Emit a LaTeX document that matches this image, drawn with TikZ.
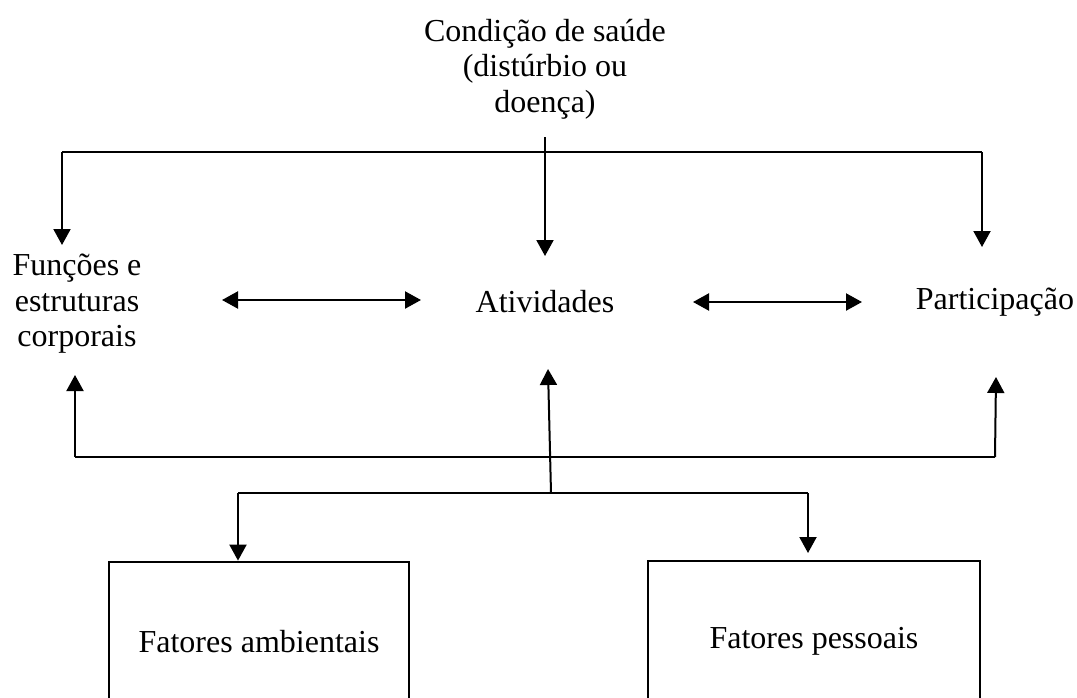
\documentclass[tikz,border=0pt]{standalone}
\usepackage{fontspec}
\setmainfont{Liberation Serif}
\usetikzlibrary{arrows.meta}
\begin{document}
\begin{tikzpicture}[x=1pt,y=-1pt,font=\fontsize{32}{35.5}\selectfont,
  seta/.style={line width=2pt,-{Triangle[length=16pt,width=17pt]}},
  dupla/.style={line width=2.2pt,{Triangle[length=16pt,width=17pt]}-{Triangle[length=16pt,width=17pt]}},
  linha/.style={line width=2.6pt},
  caixa/.style={draw,line width=2.8pt,inner sep=0pt,minimum height=160pt}]
\clip(0,0)rectangle(1077,697);
\fill[white](0,0)rectangle(1077,697);
\node[align=center,inner sep=0pt](cond)at(545,69){Condição de saúde\\(distúrbio ou\\doença)};
\node[align=center,inner sep=0pt](fun)at(77,304){Funções e\\estruturas\\corporais};
\node[inner sep=0pt](ativ)at(545,302){Atividades};
\node[inner sep=0pt](part)at(995,302){Participação};
\node[caixa,minimum width=300pt](amb)at(259,642){Fatores ambientais};
\node[caixa,minimum width=332pt](pes)at(814,641){Fatores pessoais};
\coordinate(cs)at(545,137);
\coordinate(ca)at(545,256);
\coordinate(tl)at(62,152);
\coordinate(tr)at(982,152);
\coordinate(fa)at(62,245);
\coordinate(pa)at(982,247);
\coordinate(bl)at(75,457);
\coordinate(br)at(995,457);
\coordinate(fb)at(75,375);
\coordinate(pb)at(996,377);
\coordinate(bm)at(551,493);
\coordinate(ab)at(548,369);
\coordinate(el)at(238,493);
\coordinate(er)at(808,493);
\coordinate(d1)at(222,300);
\coordinate(d2)at(421,300);
\coordinate(d3)at(693,302);
\coordinate(d4)at(862,302);
\draw[seta](cs)--(ca);
\draw[linha](tl)--(tr);
\draw[seta](tl)--(fa);
\draw[seta](tr)--(pa);
\draw[dupla](d1)--(d2);
\draw[dupla](d3)--(d4);
\draw[linha](bl)--(br);
\draw[seta](bl)--(fb);
\draw[seta](br)--(pb);
\draw[seta](bm)--(ab);
\draw[linha](el)--(er);
\draw[seta](el)--(amb.north-|el);
\draw[seta](er)--(808,553);
\end{tikzpicture}
\end{document}
